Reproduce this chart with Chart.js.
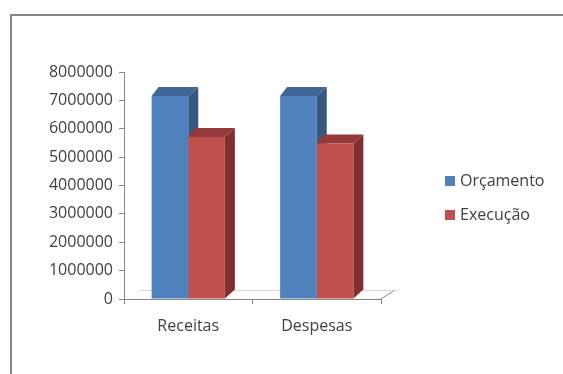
<!DOCTYPE html>
<html>
<head>
<meta charset="utf-8">
<script src="https://cdn.jsdelivr.net/npm/chart.js@4.4.1/dist/chart.umd.min.js"></script>
<style>
  body { margin: 0; background: #fff; }
  #wrap { width: 563px; height: 374px; }
</style>
</head>
<body>
<div id="wrap"><canvas id="chart" width="563" height="374"></canvas></div>
<script>
const categories = ["Receitas", "Despesas"];
const seriesNames = ["Orçamento", "Execução"];
const orcamento = [7150000, 7150000];
const execucao = [5710000, 5480000];
const yTicks = [0, 1000000, 2000000, 3000000, 4000000, 5000000, 6000000, 7000000, 8000000];

const frontColors = ["#4F81BD", "#C0504D"];
const sideColors = ["#36587F", "#7D302E"];
const topColors = ["#3E6797", "#96393A"];
const axisGray = "#868686";
const textGray = "#404040";

Chart.defaults.font.family = "'Open Sans', sans-serif";
Chart.defaults.font.size = 16;
Chart.defaults.color = textGray;

// depth offset of the fake 3d bars
const DX = 10, DY = 9;

const threeD = {
    id: "threeD",
    beforeDraw(chart) {
        const ctx = chart.ctx;
        ctx.save();
        ctx.strokeStyle = axisGray;
        ctx.lineWidth = 2;
        ctx.strokeRect(11, 15, 600, 400); // frame, runs off the page
        ctx.restore();
    },
    beforeDatasetsDraw(chart) {
        const ctx = chart.ctx;
        const area = chart.chartArea;
        ctx.save();
        // back edge of the floor
        ctx.strokeStyle = "#D9D9D9";
        ctx.lineWidth = 1;
        ctx.beginPath();
        ctx.moveTo(area.left + 15, area.bottom - 8.5);
        ctx.lineTo(area.right + 10, area.bottom - 8.5);
        ctx.stroke();

        chart.data.datasets.forEach((ds, di) => {
            const meta = chart.getDatasetMeta(di);
            meta.data.forEach(bar => {
                const p = bar.getProps(["x", "y", "base", "width"], true);
                const x1 = p.x - p.width / 2;
                const x2 = p.x + p.width / 2;
                // right side
                ctx.fillStyle = sideColors[di];
                ctx.beginPath();
                ctx.moveTo(x2, p.y);
                ctx.lineTo(x2 + DX, p.y - DY);
                ctx.lineTo(x2 + DX, p.base - DY);
                ctx.lineTo(x2, p.base);
                ctx.closePath();
                ctx.fill();
                // top
                ctx.fillStyle = topColors[di];
                ctx.beginPath();
                ctx.moveTo(x1, p.y);
                ctx.lineTo(x1 + DX - 3, p.y - DY);
                ctx.lineTo(x2 + DX, p.y - DY);
                ctx.lineTo(x2, p.y);
                ctx.closePath();
                ctx.fill();
            });
        });
        ctx.restore();
    },
    afterDraw(chart) {
        const ctx = chart.ctx;
        const area = chart.chartArea;
        ctx.save();
        // little floor corner at the end of the category axis
        ctx.strokeStyle = axisGray;
        ctx.lineWidth = 1;
        ctx.beginPath();
        ctx.moveTo(area.right, area.bottom);
        ctx.lineTo(area.right + 14, area.bottom - 9);
        ctx.stroke();

        // legend
        const lx = 445, ly = [181, 215];
        ctx.font = "16px 'Open Sans', sans-serif";
        ctx.textBaseline = "middle";
        seriesNames.forEach((name, i) => {
            ctx.fillStyle = frontColors[i];
            ctx.fillRect(lx, ly[i] - 5, 10, 10);
            ctx.fillStyle = textGray;
            ctx.fillText(name, lx + 15, ly[i]);
        });
        ctx.restore();
    }
};

new Chart(document.getElementById("chart"), {
    type: "bar",
    data: {
        labels: categories,
        datasets: [
            { label: seriesNames[0], data: orcamento, backgroundColor: frontColors[0] },
            { label: seriesNames[1], data: execucao, backgroundColor: frontColors[1] }
        ]
    },
    options: {
        responsive: false,
        animation: false,
        layout: { padding: { top: 72, right: 182, left: 0, bottom: 0 } },
        datasets: {
            bar: { categoryPercentage: 0.57, barPercentage: 1, borderWidth: 0 }
        },
        plugins: {
            legend: { display: false },
            tooltip: { enabled: false }
        },
        scales: {
            x: {
                afterFit(s) { s.height = 75; },
                border: { color: axisGray },
                grid: { drawOnChartArea: false, color: axisGray, tickLength: 5 },
                ticks: { padding: 13 }
            },
            y: {
                min: 0,
                max: 8000000,
                afterFit(s) { s.width = 124; },
                afterBuildTicks(s) { s.ticks = yTicks.map(v => ({ value: v })); },
                border: { color: axisGray },
                grid: { drawOnChartArea: false, color: axisGray, tickLength: 5 },
                ticks: { padding: 6, callback: v => String(v) }
            }
        }
    },
    plugins: [threeD]
});
</script>
</body>
</html>
